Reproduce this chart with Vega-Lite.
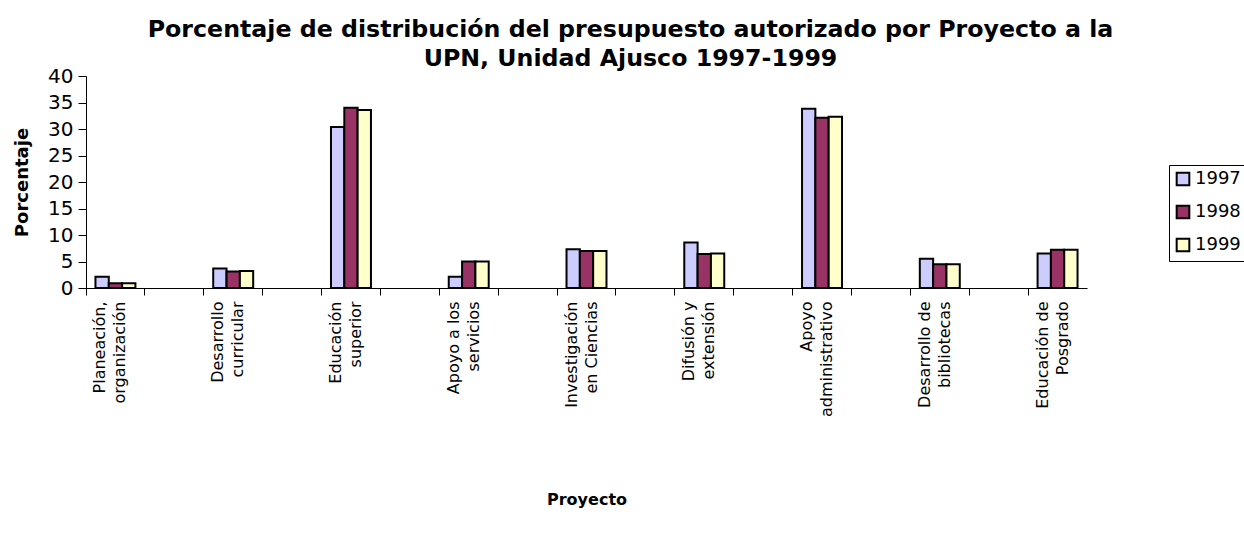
{
  "$schema": "https://vega.github.io/schema/vega-lite/v6.json",
  "width": 1001,
  "height": 212,
  "autosize": "none",
  "padding": {"left": 86, "top": 76, "right": 157, "bottom": 250},
  "background": "white",
  "config": {
    "font": "DejaVu Sans",
    "view": {"stroke": null}
  },
  "title": {
    "text": ["Porcentaje de distribución del presupuesto autorizado por Proyecto a la", "UPN, Unidad Ajusco 1997-1999"],
    "font": "DejaVu Sans",
    "fontSize": 23.7,
    "fontWeight": "bold",
    "color": "black",
    "anchor": "middle",
    "dx": 44,
    "dy": 9,
    "offset": 4,
    "lineHeight": 29
  },
  "data": {
    "values": [
      {"proyecto": "Planeación,|organización", "year": "1997", "valor": 2.1},
      {"proyecto": "Planeación,|organización", "year": "1998", "valor": 0.9},
      {"proyecto": "Planeación,|organización", "year": "1999", "valor": 0.9},
      {"proyecto": "Desarrollo|curricular", "year": "1997", "valor": 3.7},
      {"proyecto": "Desarrollo|curricular", "year": "1998", "valor": 3.1},
      {"proyecto": "Desarrollo|curricular", "year": "1999", "valor": 3.2},
      {"proyecto": "Educación|superior", "year": "1997", "valor": 30.4},
      {"proyecto": "Educación|superior", "year": "1998", "valor": 34.0},
      {"proyecto": "Educación|superior", "year": "1999", "valor": 33.6},
      {"proyecto": "Apoyo a los|servicios", "year": "1997", "valor": 2.1},
      {"proyecto": "Apoyo a los|servicios", "year": "1998", "valor": 5.0},
      {"proyecto": "Apoyo a los|servicios", "year": "1999", "valor": 5.0},
      {"proyecto": "Investigación|en Ciencias", "year": "1997", "valor": 7.3},
      {"proyecto": "Investigación|en Ciencias", "year": "1998", "valor": 7.0},
      {"proyecto": "Investigación|en Ciencias", "year": "1999", "valor": 7.0},
      {"proyecto": "Difusión y|extensión", "year": "1997", "valor": 8.6},
      {"proyecto": "Difusión y|extensión", "year": "1998", "valor": 6.4},
      {"proyecto": "Difusión y|extensión", "year": "1999", "valor": 6.5},
      {"proyecto": "Apoyo|administrativo", "year": "1997", "valor": 33.8},
      {"proyecto": "Apoyo|administrativo", "year": "1998", "valor": 32.1},
      {"proyecto": "Apoyo|administrativo", "year": "1999", "valor": 32.3},
      {"proyecto": "Desarrollo de|bibliotecas", "year": "1997", "valor": 5.5},
      {"proyecto": "Desarrollo de|bibliotecas", "year": "1998", "valor": 4.5},
      {"proyecto": "Desarrollo de|bibliotecas", "year": "1999", "valor": 4.5},
      {"proyecto": "Educación de|Posgrado", "year": "1997", "valor": 6.5},
      {"proyecto": "Educación de|Posgrado", "year": "1998", "valor": 7.2},
      {"proyecto": "Educación de|Posgrado", "year": "1999", "valor": 7.2}
    ]
  },
  "mark": {"type": "bar", "stroke": "black", "strokeWidth": 2},
  "encoding": {
    "x": {
      "field": "proyecto",
      "type": "nominal",
      "sort": null,
      "scale": {
        "domain": ["Planeación,|organización", "_1", "Desarrollo|curricular", "_2", "Educación|superior", "_3", "Apoyo a los|servicios", "_4", "Investigación|en Ciencias", "_5", "Difusión y|extensión", "_6", "Apoyo|administrativo", "_7", "Desarrollo de|bibliotecas", "_8", "Educación de|Posgrado"],
        "paddingInner": 0,
        "paddingOuter": 0
      },
      "axis": {
        "title": "Proyecto",
        "titleFont": "DejaVu Sans",
        "titleFontSize": 16,
        "titleFontWeight": "bold",
        "titleColor": "black",
        "titleY": 219,
        "titleBaseline": "bottom",
        "labelExpr": "indexof(datum.value, '_') === 0 ? '' : split(datum.value, '|')",
        "labelAngle": -90,
        "labelAlign": "right",
        "labelBaseline": "middle",
        "labelFontSize": 16,
        "labelColor": "black",
        "labelLineHeight": 20,
        "labelPadding": 6,
        "labelOverlap": false,
        "bandPosition": 0,
        "labelOffset": -15,
        "tickSize": 7,
        "tickColor": "black",
        "domainColor": "black",
        "grid": false
      }
    },
    "xOffset": {
      "field": "year",
      "type": "nominal",
      "scale": {"paddingInner": 0, "paddingOuter": 0.71}
    },
    "y": {
      "field": "valor",
      "type": "quantitative",
      "scale": {"domain": [0, 40], "nice": false},
      "axis": {
        "title": "Porcentaje",
        "titleFont": "DejaVu Sans",
        "titleFontSize": 18,
        "titleFontWeight": "bold",
        "titleColor": "black",
        "titlePadding": 16,
        "values": [0, 5, 10, 15, 20, 25, 30, 35, 40],
        "labelFontSize": 20,
        "labelColor": "black",
        "labelPadding": 5,
        "tickSize": 8,
        "tickColor": "black",
        "domainColor": "black",
        "grid": false
      }
    },
    "color": {
      "field": "year",
      "type": "nominal",
      "scale": {"domain": ["1997", "1998", "1999"], "range": ["#CCCCFF", "#993366", "#FFFFCC"]},
      "legend": {
        "title": null,
        "orient": "none",
        "legendX": 1083,
        "legendY": 89,
        "symbolType": "square",
        "symbolSize": 160,
        "symbolStrokeColor": "black",
        "symbolStrokeWidth": 2,
        "labelFontSize": 18,
        "labelColor": "black",
        "labelOffset": 3,
        "rowPadding": 11,
        "padding": 5,
        "strokeColor": "black",
        "fillColor": "white"
      }
    }
  }
}
